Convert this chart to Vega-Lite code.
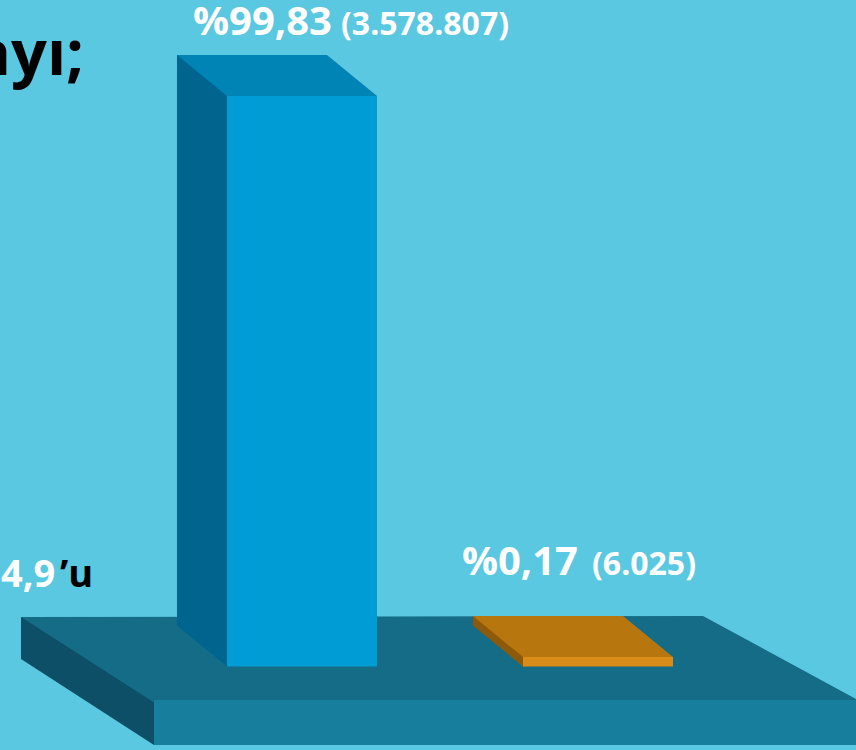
{
  "$schema": "https://vega.github.io/schema/vega-lite/v6.json",
  "width": 856,
  "height": 750,
  "autosize": {"type": "none"},
  "padding": 0,
  "background": "#5AC8E1",
  "config": {"view": {"stroke": null}, "font": "Open Sans"},
  "data": {
    "values": [
      {"grup": "Grup 1", "oran": 99.83, "sayi": 3578807},
      {"grup": "Grup 2", "oran": 0.17, "sayi": 6025}
    ]
  },
  "transform": [
    {"calculate": "'%' + replace(format(datum.oran, '.2f'), '.', ',')", "as": "oranEtiket"},
    {"calculate": "'(' + replace(replace(format(datum.sayi, ','), ',', '.'), ',', '.') + ')'", "as": "sayiEtiket"}
  ],
  "layer": [
    {
      "data": {"values": [{}]},
      "mark": {"type": "point", "shape": "M-2.06,-0.495L-1.5,-0.495L-0.6,0.25L-0.6,0.785L-0.73,0.785L-2.06,-0.075Z", "size": 40000, "filled": true, "opacity": 1, "strokeWidth": 0, "color": "#0D4F66"},
      "encoding": {
        "x": {"datum": "Grup 1", "type": "nominal", "bandPosition": 0, "scale": {"type": "band", "domain": ["Grup 1", "Grup 2"], "paddingInner": 0.49324, "paddingOuter": 0.692565, "align": 0.553659, "round": false}, "axis": null},
        "y": {"datum": -1.5, "type": "quantitative", "scale": {"domain": [-16.33, 116.88], "nice": false, "zero": false}, "axis": null}
      }
    },
    {
      "data": {"values": [{}]},
      "mark": {"type": "point", "shape": "M-2.06,-0.495L4.76,-0.505L6.31,0.335L6.6,0.36L-0.73,0.36Z", "size": 40000, "filled": true, "opacity": 1, "strokeWidth": 0, "color": "#156C86"},
      "encoding": {
        "x": {"datum": "Grup 1", "type": "nominal", "bandPosition": 0},
        "y": {"datum": -1.5, "type": "quantitative"}
      }
    },
    {
      "data": {"values": [{}]},
      "mark": {"type": "point", "shape": "M-0.73,0.335L6.6,0.335L6.6,0.785L-0.73,0.785Z", "size": 40000, "filled": true, "opacity": 1, "strokeWidth": 0, "color": "#187E9E"},
      "encoding": {
        "x": {"datum": "Grup 1", "type": "nominal", "bandPosition": 0},
        "y": {"datum": -1.5, "type": "quantitative"}
      }
    },
    {
      "mark": {"type": "bar", "xOffset": -50, "x2Offset": -50, "yOffset": -41, "y2Offset": -41},
      "encoding": {
        "x": {"field": "grup", "type": "nominal"},
        "y": {"field": "oran", "type": "quantitative"},
        "y2": {"datum": -1.5},
        "color": {"field": "grup", "type": "nominal", "scale": {"domain": ["Grup 1", "Grup 2"], "range": ["#00658E", "#8C5A0A"]}, "legend": null}
      }
    },
    {
      "mark": {"type": "point", "shape": "M-2,-1.8L0.08,-1.8L0.08,0L0,0L-2,-1.64Z", "size": 2500, "filled": true, "opacity": 1, "strokeWidth": 0},
      "encoding": {
        "x": {"field": "grup", "type": "nominal", "bandPosition": 0},
        "y": {"datum": -1.5, "type": "quantitative"},
        "color": {"field": "grup", "type": "nominal", "scale": {"domain": ["Grup 1", "Grup 2"], "range": ["#00658E", "#8C5A0A"]}, "legend": null}
      }
    },
    {
      "mark": {"type": "point", "shape": "M-2,-1.64L4,-1.64L6,0L6,0.06L0,0.06L0,0Z", "size": 2500, "filled": true, "opacity": 1, "strokeWidth": 0},
      "encoding": {
        "x": {"field": "grup", "type": "nominal", "bandPosition": 0},
        "y": {"field": "oran", "type": "quantitative"},
        "color": {"field": "grup", "type": "nominal", "scale": {"domain": ["Grup 1", "Grup 2"], "range": ["#0083B5", "#B8770E"]}, "legend": null}
      }
    },
    {
      "mark": {"type": "bar"},
      "encoding": {
        "x": {"field": "grup", "type": "nominal"},
        "y": {"field": "oran", "type": "quantitative"},
        "y2": {"datum": -1.5},
        "color": {"field": "grup", "type": "nominal", "scale": {"domain": ["Grup 1", "Grup 2"], "range": ["#009CD5", "#D98C18"]}, "legend": null}
      }
    },
    {
      "transform": [{"filter": "datum.grup === 'Grup 1'"}],
      "mark": {"type": "text", "align": "right", "baseline": "alphabetic", "dx": 30, "dy": -61, "fontSize": 40, "fontWeight": "bold", "color": "#FFFFFF"},
      "encoding": {
        "x": {"field": "grup", "type": "nominal"},
        "y": {"field": "oran", "type": "quantitative"},
        "text": {"field": "oranEtiket"}
      }
    },
    {
      "transform": [{"filter": "datum.grup === 'Grup 1'"}],
      "mark": {"type": "text", "align": "left", "baseline": "alphabetic", "dx": 39, "dy": -61, "fontSize": 32, "fontWeight": "bold", "color": "#FFFFFF"},
      "encoding": {
        "x": {"field": "grup", "type": "nominal"},
        "y": {"field": "oran", "type": "quantitative"},
        "text": {"field": "sayiEtiket"}
      }
    },
    {
      "transform": [{"filter": "datum.grup === 'Grup 2'"}],
      "mark": {"type": "text", "align": "right", "baseline": "alphabetic", "dx": -20, "dy": -82, "fontSize": 40, "fontWeight": "bold", "color": "#FFFFFF"},
      "encoding": {
        "x": {"field": "grup", "type": "nominal"},
        "y": {"field": "oran", "type": "quantitative"},
        "text": {"field": "oranEtiket"}
      }
    },
    {
      "transform": [{"filter": "datum.grup === 'Grup 2'"}],
      "mark": {"type": "text", "align": "left", "baseline": "alphabetic", "dx": -6, "dy": -82, "fontSize": 32, "fontWeight": "bold", "color": "#FFFFFF"},
      "encoding": {
        "x": {"field": "grup", "type": "nominal"},
        "y": {"field": "oran", "type": "quantitative"},
        "text": {"field": "sayiEtiket"}
      }
    },
    {
      "data": {"values": [{}]},
      "mark": {"type": "text", "text": "ayı;", "align": "left", "baseline": "alphabetic", "dx": -254, "fontSize": 63, "fontWeight": "bold", "color": "#000000"},
      "encoding": {
        "x": {"datum": "Grup 1", "type": "nominal", "bandPosition": 0},
        "y": {"datum": 103.5, "type": "quantitative"}
      }
    },
    {
      "data": {"values": [{}]},
      "mark": {"type": "text", "text": "4,9", "align": "left", "baseline": "alphabetic", "dx": -226, "fontSize": 38, "fontWeight": "bold", "color": "#FFFFFF"},
      "encoding": {
        "x": {"datum": "Grup 1", "type": "nominal", "bandPosition": 0},
        "y": {"datum": 12.62, "type": "quantitative"}
      }
    },
    {
      "data": {"values": [{}]},
      "mark": {"type": "text", "text": "’u", "align": "left", "baseline": "alphabetic", "dx": -167, "fontSize": 38, "fontWeight": "bold", "color": "#000000"},
      "encoding": {
        "x": {"datum": "Grup 1", "type": "nominal", "bandPosition": 0},
        "y": {"datum": 12.62, "type": "quantitative"}
      }
    }
  ],
  "resolve": {"scale": {"color": "independent"}}
}
